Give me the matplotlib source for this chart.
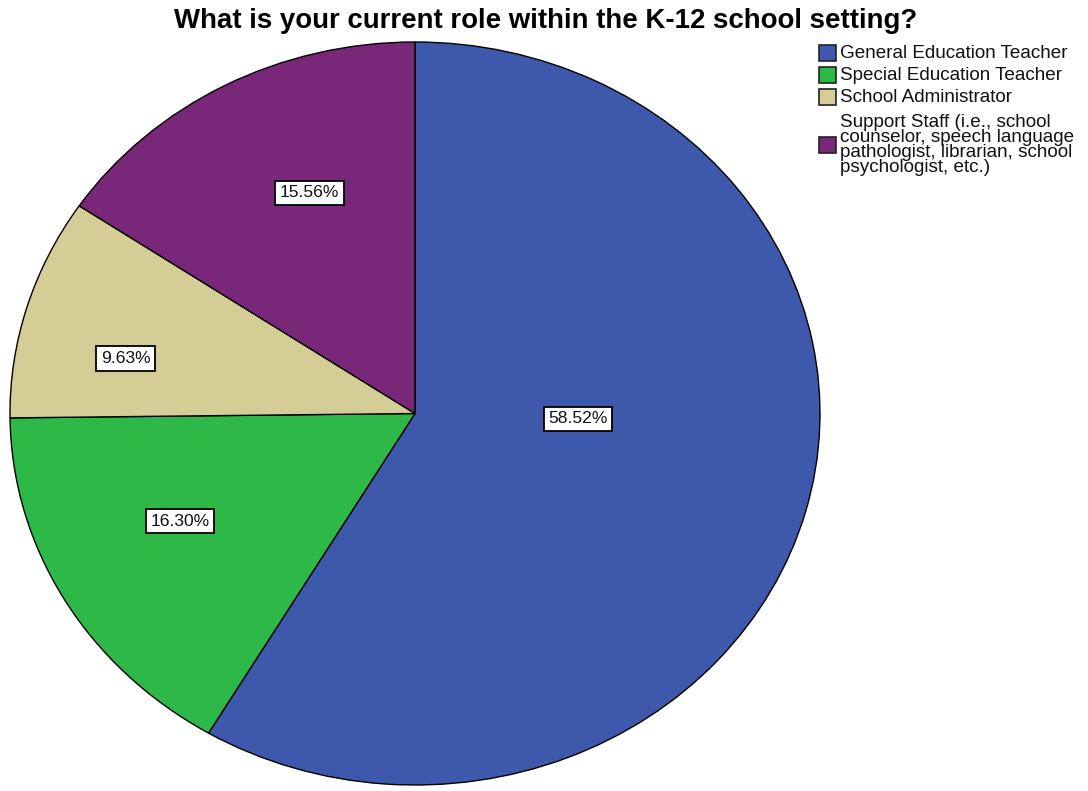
import matplotlib.pyplot as plt
from matplotlib.patches import Rectangle

plt.rcParams['font.family'] = ['Liberation Sans', 'DejaVu Sans']

roles = ['General Education Teacher', 'Special Education Teacher', 'School Administrator',
         'Support Staff (i.e., school\ncounselor, speech language\npathologist, librarian, school\npsychologist, etc.)']
percents = [58.52, 16.30, 9.63, 15.56]
colors = ['#3E58AC', '#2EB848', '#D4CE96', '#792879']
# label positions in axes fraction (SPSS puts them its own way)
label_pos = [(0.701, 0.493), (0.210, 0.355), (0.143, 0.574), (0.370, 0.797)]

W, H = 1088, 791
fig = plt.figure(figsize=(W / 100, H / 100), dpi=100)

# pie is slightly elliptical in the original
ax = fig.add_axes([10 / W, (H - 785) / H, 810 / W, 743 / H])
wedges, _ = ax.pie(percents, colors=colors, startangle=90, counterclock=False,
                   wedgeprops=dict(edgecolor='black', linewidth=1.0))
ax.set_aspect('auto')
ax.set_xlim(-1, 1)
ax.set_ylim(-1, 1)
ax.axis('off')

for p, (lx, ly) in zip(percents, label_pos):
    ax.text(lx, ly, '%.2f%%' % p, transform=ax.transAxes, ha='center', va='center',
            fontsize=12.6, color='#111111',
            bbox=dict(boxstyle='square,pad=0.26', fc='white', ec='black', lw=1.3))

fig.text(546 / W, 1 - 21 / H, 'What is your current role within the K-12 school setting?',
         ha='center', va='center', fontsize=19.9, fontweight='bold')

# legend drawn by hand
row_y = [53, 75, 97, 145]
for y, c, lab in zip(row_y, colors, roles):
    fig.add_artist(Rectangle((819 / W, 1 - (y + 8) / H), 17 / W, 16 / H,
                             transform=fig.transFigure, fc=c, ec='#222222', lw=1.2))
    fig.text(840 / W, 1 - y / H, lab, ha='left', va='center', fontsize=13.6,
             color='#111111', linespacing=0.85)

fig.savefig('out.png', dpi=100)
